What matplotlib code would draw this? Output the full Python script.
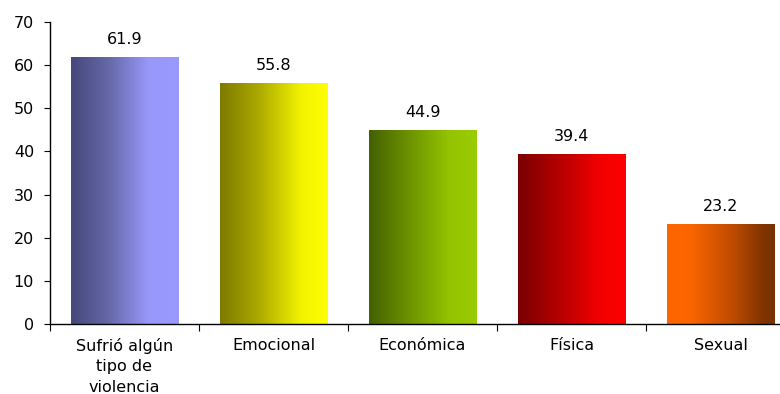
import matplotlib
matplotlib.use("Agg")
import matplotlib.pyplot as plt
import numpy as np
from matplotlib.colors import LinearSegmentedColormap

categories = ["Sufrió algún\ntipo de\nviolencia", "Emocional", "Económica", "Física", "Sexual"]
values = [61.9, 55.8, 44.9, 39.4, 23.2]
value_labels = ["61.9", "55.8", "44.9", "39.4", "23.2"]
gradients = [
    [(0.0, "#45477a"), (0.35, "#6668a8"), (0.72, "#9898fa"), (1.0, "#9999ff")],
    [(0.0, "#7d7a00"), (0.35, "#aaa800"), (0.75, "#f2f200"), (1.0, "#ffff00")],
    [(0.0, "#436000"), (0.35, "#6a9000"), (0.75, "#94c400"), (1.0, "#99cc00")],
    [(0.0, "#7a0000"), (0.35, "#b00000"), (0.75, "#f20000"), (1.0, "#ff0000")],
    [(0.0, "#ff6600"), (0.22, "#fb6500"), (0.6, "#c04c00"), (0.9, "#7e3300"), (1.0, "#7a3200")],
]

plt.rcParams["font.family"] = ["DejaVu Sans"]

fig = plt.figure(figsize=(7.8, 3.94), dpi=100)
ax = fig.add_axes([50/780, 1-324/394, 745/780, (324-22)/394])

x = np.arange(len(values))
width = 0.72
bars = ax.bar(x, values, width=width, color="none", edgecolor="none", zorder=2)

for i, (b, g) in enumerate(zip(bars, gradients)):
    cmap = LinearSegmentedColormap.from_list(f"g{i}", g)
    grad = np.linspace(0, 1, 256).reshape(1, -1)
    x0 = b.get_x()
    im = ax.imshow(grad, cmap=cmap, aspect="auto",
                   extent=[x0, x0 + b.get_width(), 0, b.get_height()],
                   zorder=2, interpolation="bilinear")
    im.set_clip_path(b)
    ax.text(b.get_x() + b.get_width()/2, b.get_height() + 2.3, value_labels[i],
            ha="center", va="bottom", fontsize=11.5)

ax.set_xlim(-0.5, len(values) - 0.5)
ax.set_ylim(0, 70)
ax.set_yticks(np.arange(0, 71, 10))
ax.tick_params(axis="y", labelsize=11.5, length=4.5, direction="out", pad=7)

ax.set_xticks(np.arange(-0.5, len(values), 1.0), minor=False)
ax.set_xticklabels([])
ax.set_xticks(x, minor=True)
ax.set_xticklabels(categories, minor=True, fontsize=11.5, linespacing=1.45)
ax.tick_params(axis="x", which="major", length=5, direction="out")
ax.tick_params(axis="x", which="minor", length=0, pad=10)

for s in ["top", "right"]:
    ax.spines[s].set_visible(False)
ax.spines["left"].set_linewidth(1)
ax.spines["bottom"].set_linewidth(1)

fig.savefig("out.png", dpi=100)
